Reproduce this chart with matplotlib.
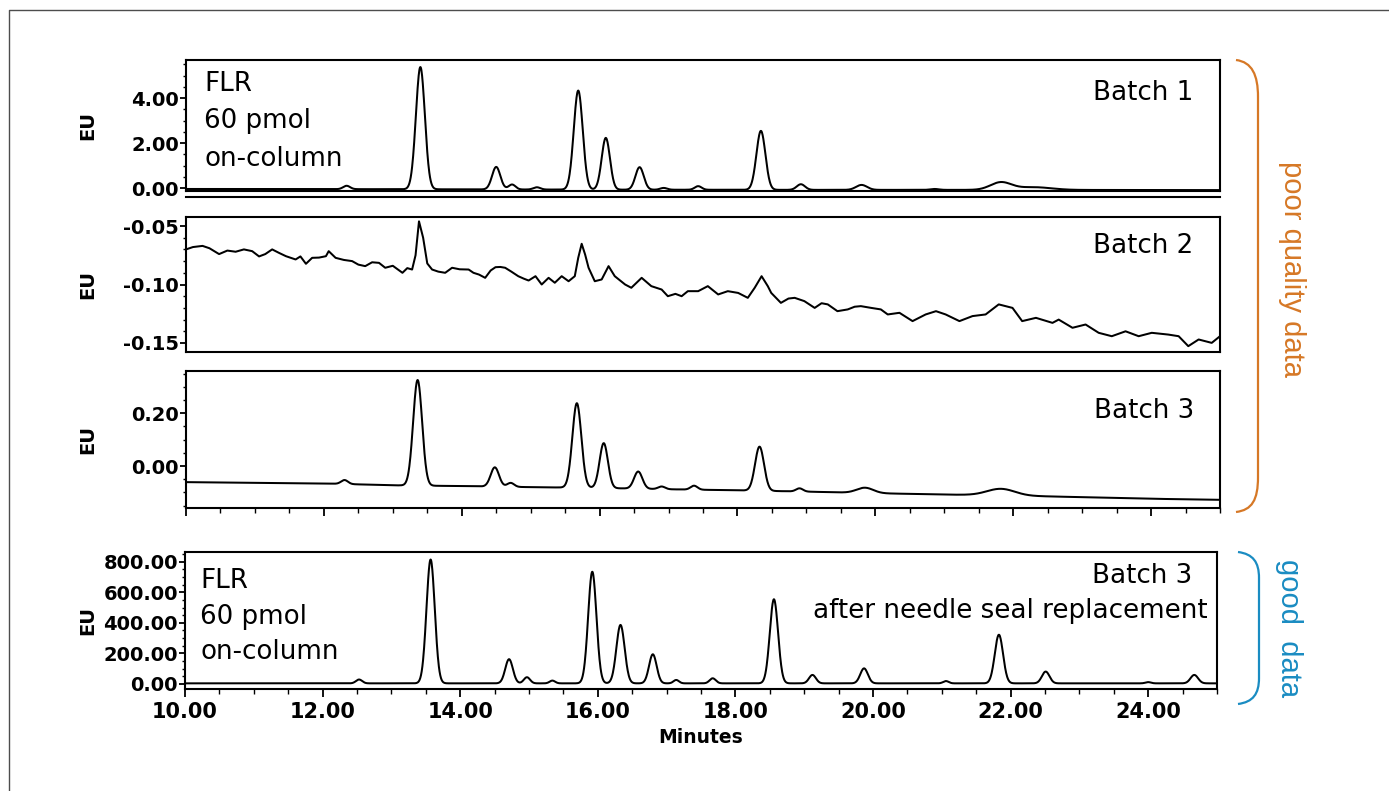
import numpy as np
import matplotlib
matplotlib.use("Agg")
import matplotlib.pyplot as plt
from matplotlib.path import Path
from matplotlib.patches import PathPatch
from matplotlib.ticker import MultipleLocator

W, H = 1389, 791

ORANGE = "#D67826"
BLUE = "#1A8CC2"

# retention time axis (minutes)
X_TICKS = [10, 12, 14, 16, 18, 20, 22, 24]
X_TICK_LABELS = ["10.00", "12.00", "14.00", "16.00", "18.00", "20.00", "22.00", "24.00"]

# Batch 1 - peak table (rt, height EU, width min)
b1_rt = [12.33, 13.40, 14.50, 14.73, 15.09, 15.69, 16.09, 16.58, 16.93, 17.43,
         18.34, 18.92, 19.80, 20.86, 21.82, 22.30]
b1_height = [0.15, 5.43, 1.00, 0.22, 0.10, 4.40, 2.30, 1.00, 0.08, 0.16,
             2.62, 0.25, 0.22, 0.04, 0.33, 0.12]
b1_width = [0.05, 0.065, 0.06, 0.05, 0.05, 0.065, 0.06, 0.06, 0.05, 0.05,
            0.065, 0.06, 0.08, 0.06, 0.15, 0.25]
b1_base_t = [10, 13, 16, 19, 22, 25]
b1_base_v = [-0.04, -0.05, -0.07, -0.08, -0.08, -0.09]
b1_ticks = [0, 2, 4]
b1_tick_labels = ["0.00", "2.00", "4.00"]

# Batch 2 - noisy trace read point by point
b2_time = [10.00, 10.10, 10.24, 10.34, 10.48, 10.60, 10.72, 10.84, 10.96, 11.06,
           11.15, 11.25, 11.35, 11.45, 11.59, 11.66, 11.74, 11.83, 11.93, 12.03,
           12.07, 12.17, 12.29, 12.41, 12.50, 12.60, 12.70, 12.80, 12.89, 13.00,
           13.14, 13.21, 13.28, 13.33, 13.38, 13.44, 13.50, 13.57, 13.66, 13.76,
           13.86, 13.97, 14.10, 14.17, 14.25, 14.34, 14.42, 14.49, 14.56, 14.63,
           14.72, 14.82, 14.90, 14.97, 15.07, 15.16, 15.26, 15.35, 15.45, 15.55,
           15.64, 15.69, 15.74, 15.79, 15.84, 15.93, 16.03, 16.13, 16.22, 16.37,
           16.46, 16.61, 16.75, 16.90, 16.99, 17.10, 17.19, 17.28, 17.43, 17.57,
           17.72, 17.86, 18.01, 18.15, 18.25, 18.35, 18.44, 18.49, 18.63, 18.74,
           18.83, 18.97, 19.12, 19.22, 19.31, 19.45, 19.60, 19.70, 19.79, 19.94,
           20.08, 20.18, 20.35, 20.54, 20.73, 20.88, 21.02, 21.22, 21.41, 21.60,
           21.79, 21.99, 22.13, 22.33, 22.57, 22.66, 22.86, 23.05, 23.24, 23.43,
           23.63, 23.82, 24.01, 24.25, 24.40, 24.54, 24.69, 24.88, 25.00]
b2_value = [-0.0700, -0.0680, -0.0670, -0.0690, -0.0740, -0.0710, -0.0720, -0.0700, -0.0715, -0.0760,
            -0.0740, -0.0700, -0.0730, -0.0758, -0.0786, -0.0760, -0.0823, -0.0772, -0.0770, -0.0758,
            -0.0715, -0.0772, -0.0790, -0.0800, -0.0830, -0.0843, -0.0810, -0.0815, -0.0857, -0.0840,
            -0.0900, -0.0860, -0.0872, -0.0750, -0.0460, -0.0600, -0.0820, -0.0872, -0.0890, -0.0900,
            -0.0857, -0.0870, -0.0872, -0.0900, -0.0915, -0.0943, -0.0880, -0.0852, -0.0850, -0.0857,
            -0.0890, -0.0929, -0.0950, -0.0966, -0.0929, -0.1000, -0.0943, -0.0985, -0.0929, -0.0972,
            -0.0929, -0.0772, -0.0652, -0.0744, -0.0857, -0.0972, -0.0957, -0.0843, -0.0929, -0.1000,
            -0.1028, -0.0943, -0.1014, -0.1043, -0.1100, -0.1080, -0.1100, -0.1057, -0.1057, -0.1014,
            -0.1085, -0.1057, -0.1072, -0.1114, -0.1028, -0.0929, -0.1014, -0.1072, -0.1157, -0.1120,
            -0.1114, -0.1142, -0.1200, -0.1160, -0.1170, -0.1228, -0.1213, -0.1190, -0.1185, -0.1200,
            -0.1213, -0.1256, -0.1242, -0.1313, -0.1256, -0.1228, -0.1256, -0.1313, -0.1270, -0.1256,
            -0.1170, -0.1200, -0.1313, -0.1285, -0.1328, -0.1300, -0.1370, -0.1342, -0.1413, -0.1442,
            -0.1400, -0.1442, -0.1413, -0.1428, -0.1442, -0.1527, -0.1470, -0.1499, -0.1442]
b2_ticks = [-0.15, -0.10, -0.05]
b2_tick_labels = ["-0.15", "-0.10", "-0.05"]

# Batch 3 - poor injection
b3_rt = [12.30, 13.36, 14.48, 14.71, 15.67, 16.06, 16.56, 16.90, 17.37, 18.32,
         18.90, 19.85, 21.82]
b3_height = [0.015, 0.40, 0.073, 0.015, 0.32, 0.17, 0.065, 0.01, 0.015, 0.167,
             0.012, 0.02, 0.025]
b3_width = [0.05, 0.065, 0.06, 0.05, 0.065, 0.06, 0.06, 0.05, 0.05, 0.065,
            0.05, 0.12, 0.20]
b3_base_t = [10, 12, 13, 14, 15, 16, 17, 18, 19, 20, 21, 22, 23, 24, 25]
b3_base_v = [-0.061, -0.066, -0.073, -0.076, -0.080, -0.083, -0.088, -0.092,
             -0.097, -0.103, -0.108, -0.112, -0.118, -0.124, -0.128]
b3_ticks = [0.0, 0.2]
b3_tick_labels = ["0.00", "0.20"]

# Batch 3 after needle seal replacement
b4_rt = [12.53, 13.57, 14.71, 14.97, 15.34, 15.92, 16.33, 16.80, 17.14, 17.67,
         18.56, 19.12, 19.87, 21.06, 21.83, 22.51, 24.00, 24.67]
b4_height = [25, 810, 158, 40, 18, 730, 382, 190, 22, 33,
             550, 55, 98, 15, 318, 77, 8, 55]
b4_width = [0.045, 0.06, 0.055, 0.045, 0.04, 0.06, 0.06, 0.055, 0.04, 0.045,
            0.06, 0.05, 0.055, 0.04, 0.06, 0.055, 0.04, 0.055]
b4_base_t = [10, 25]
b4_base_v = [4, 4]
b4_ticks = [0, 200, 400, 600, 800]
b4_tick_labels = ["0.00", "200.00", "400.00", "600.00", "800.00"]


def px(x, y):
    return x / W, 1 - y / H


def panel_axes(fig, left, right, top, bottom):
    return fig.add_axes([left / W, 1 - bottom / H, (right - left) / W, (bottom - top) / H])


def chromatogram(t, base_t, base_v, rt, height, width):
    y = np.interp(t, base_t, base_v)
    for r, h, w in zip(rt, height, width):
        y = y + h * np.exp(-0.5 * ((t - r) / w) ** 2)
    return y


def style_panel(ax, ylim, ticks, labels, minor, x_ticks=False, x_labels=False):
    ax.set_xlim(10, 25)
    ax.set_ylim(*ylim)
    for spine in ax.spines.values():
        spine.set_linewidth(1.5)
    ax.set_yticks(ticks, labels, fontsize=14, fontweight="bold")
    ax.yaxis.set_minor_locator(MultipleLocator(minor))
    ax.tick_params(axis="y", which="major", direction="out", length=4.5, width=1.3, pad=0.5)
    ax.tick_params(axis="y", which="minor", direction="out", length=2.5, width=1.0)
    if x_ticks:
        lbls = X_TICK_LABELS if x_labels else [""] * len(X_TICKS)
        ax.set_xticks(X_TICKS, lbls, fontsize=15, fontweight="bold")
        ax.xaxis.set_minor_locator(MultipleLocator(0.5))
        ax.tick_params(axis="x", which="major", direction="out", length=5.5, width=1.3, pad=4)
        ax.tick_params(axis="x", which="minor", direction="out", length=3.3, width=1.0)
    else:
        ax.set_xticks([])


def add_bracket(ov, pts, color):
    codes = [Path.MOVETO, Path.CURVE4, Path.CURVE4, Path.CURVE4,
             Path.LINETO, Path.CURVE4, Path.CURVE4, Path.CURVE4]
    ov.add_patch(PathPatch(Path(pts, codes), fill=False, edgecolor=color, lw=1.6))


def main():
    fig = plt.figure(figsize=(W / 100, H / 100), dpi=100)
    t = np.linspace(10, 25, 3001)
    trace = dict(color="black", lw=1.45)

    ax1 = panel_axes(fig, 186, 1220, 60, 191)
    ax1.plot(t, chromatogram(t, b1_base_t, b1_base_v, b1_rt, b1_height, b1_width), **trace)
    style_panel(ax1, (-0.13, 5.69), b1_ticks, b1_tick_labels, 0.5)

    ax2 = panel_axes(fig, 186, 1220, 217, 352)
    ax2.plot(b2_time, b2_value, **trace)
    style_panel(ax2, (-0.1577, -0.0423), b2_ticks, b2_tick_labels, 0.01)

    ax3 = panel_axes(fig, 186, 1220, 371, 508)
    ax3.plot(t, chromatogram(t, b3_base_t, b3_base_v, b3_rt, b3_height, b3_width), **trace)
    style_panel(ax3, (-0.159, 0.36), b3_ticks, b3_tick_labels, 0.05, x_ticks=True)

    ax4 = panel_axes(fig, 185, 1217, 552, 689)
    ax4.plot(t, chromatogram(t, b4_base_t, b4_base_v, b4_rt, b4_height, b4_width), **trace)
    style_panel(ax4, (-33, 863), b4_ticks, b4_tick_labels, 50, x_ticks=True, x_labels=True)
    ax4.set_xlabel("Minutes", fontsize=13.5, fontweight="bold", labelpad=4)

    # y labels
    for top, bottom in [(60, 191), (217, 352), (371, 508), (552, 689)]:
        fig.text(*px(88, (top + bottom) / 2), "EU", rotation=90, ha="center", va="center",
                 fontsize=14, fontweight="bold")

    # annotations
    txt = dict(fontsize=18.8, va="baseline")
    for label, y in [("FLR", 91), ("60 pmol", 128), ("on-column", 166)]:
        fig.text(*px(204, y), label, ha="left", **txt)
    for label, y in [("FLR", 588), ("60 pmol", 624), ("on-column", 659)]:
        fig.text(*px(200, y), label, ha="left", **txt)
    fig.text(*px(1193, 100), "Batch 1", ha="right", **txt)
    fig.text(*px(1193, 253), "Batch 2", ha="right", **txt)
    fig.text(*px(1194, 418), "Batch 3", ha="right", **txt)
    fig.text(*px(1192, 583), "Batch 3", ha="right", **txt)
    fig.text(*px(1208, 618), "after needle seal replacement", ha="right", **txt)

    # overlay in pixel coordinates for frame and brackets
    ov = fig.add_axes([0, 0, 1, 1])
    ov.set_xlim(0, W)
    ov.set_ylim(H, 0)
    ov.axis("off")
    ov.patch.set_alpha(0)
    ov.plot([9, 9, W + 5], [H + 5, 10, 10], color="#4d4d4d", lw=1.0)
    ov.plot([186, 1220], [197, 197], color="black", lw=1.5)

    add_bracket(ov, [(1236, 60), (1252, 62), (1258, 75), (1258, 97),
                     (1258, 477), (1258, 500), (1252, 510), (1236, 512)], ORANGE)
    add_bracket(ov, [(1238, 552), (1253, 554), (1259, 562), (1259, 578),
                     (1259, 678), (1259, 694), (1253, 702), (1238, 704)], BLUE)

    fig.text(*px(1292, 269), "poor quality data", rotation=-90, ha="center", va="center",
             color=ORANGE, fontsize=21, family="Liberation Sans")
    fig.text(*px(1289, 628), "good  data", rotation=-90, ha="center", va="center",
             color=BLUE, fontsize=21, family="Liberation Sans")

    fig.savefig("out.png", dpi=100)
    plt.close(fig)


if __name__ == "__main__":
    main()
